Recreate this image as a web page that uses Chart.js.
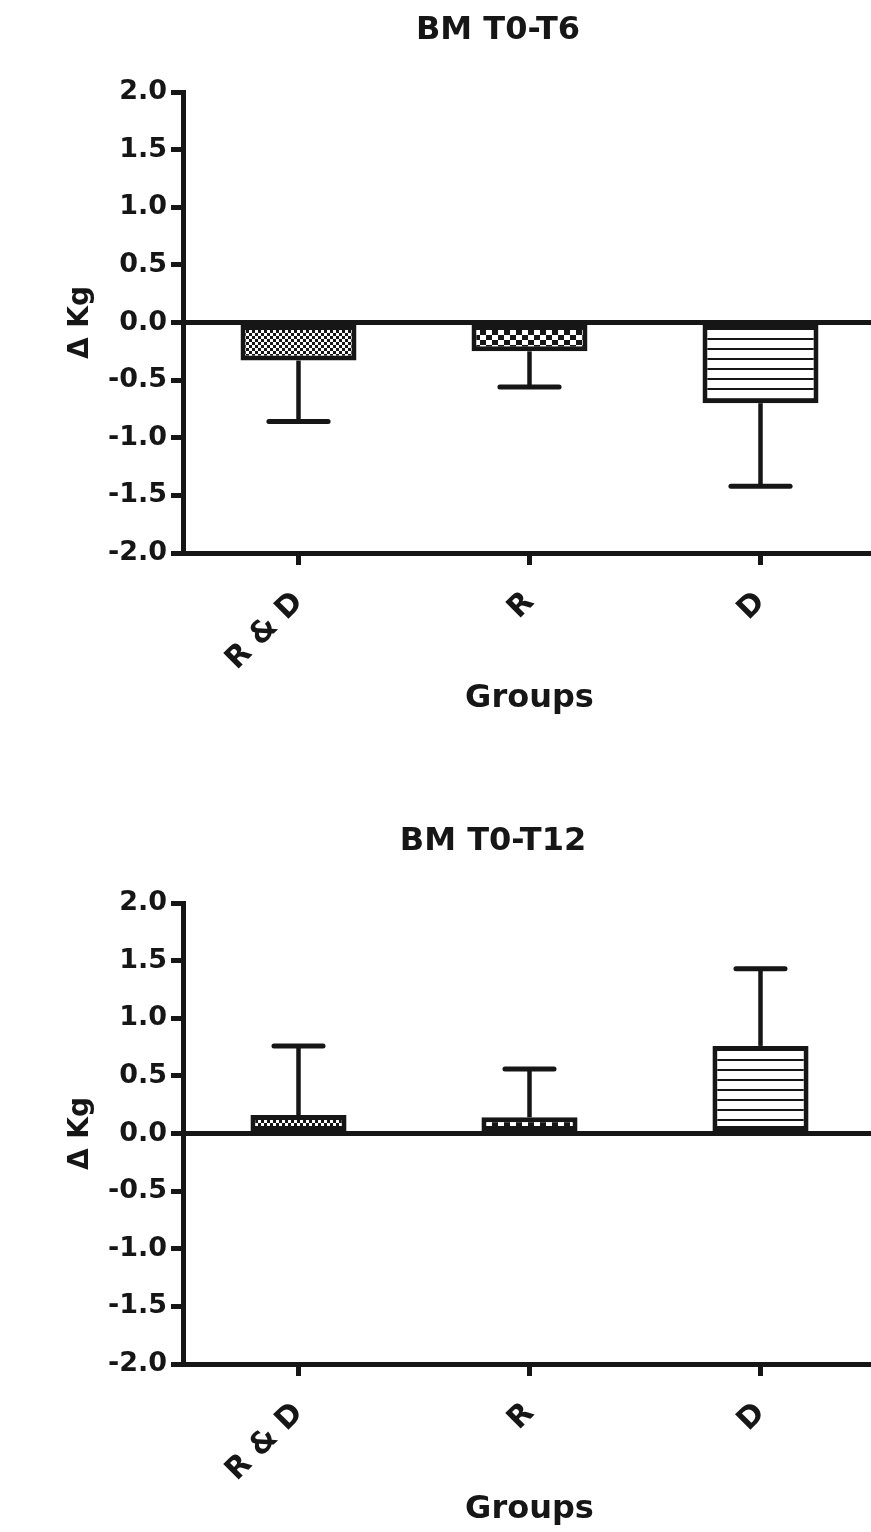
<!DOCTYPE html>
<html><head><meta charset="utf-8">
<script src="https://cdn.jsdelivr.net/npm/chart.js@4.4.1/dist/chart.umd.min.js"></script>
<style>
html,body{margin:0;padding:0;background:#fff;overflow:hidden;width:871px;height:1532px;position:relative;}
.wrap{position:absolute;left:0;width:880px;height:722px;}
.ttl{position:absolute;font-family:'DejaVu Sans';font-weight:bold;font-size:32px;color:#161616;line-height:38px;white-space:nowrap;transform:translateX(-50%);}
</style></head><body>
<div class="wrap" style="top:0"><canvas id="c1" width="880" height="722"></canvas></div>
<div class="wrap" style="top:811px"><canvas id="c2" width="880" height="722"></canvas></div>
<div class="ttl" id="t1" style="left:498px;top:9px"></div>
<div class="ttl" id="t2" style="left:493px;top:820px"></div>
<script>
// ---- data ----
const chartTitles = ['BM T0-T6', 'BM T0-T12'];
const groups = ['R & D', 'R', 'D'];
const t6Means = [-0.33, -0.25, -0.70];
const t6SD = [0.53, 0.31, 0.72];
const t12Means = [0.16, 0.14, 0.76];
const t12SD = [0.60, 0.42, 0.67];
const yTickLabels = ['-2.0', '-1.5', '-1.0', '-0.5', '0.0', '0.5', '1.0', '1.5', '2.0'];
const yAxisTitle = '\u0394 Kg';
const xAxisTitle = 'Groups';

// ---- style ----
const ink = '#161616';
const FONT = "'DejaVu Sans'";

function makePattern(kind) {
  const c = document.createElement('canvas');
  const x = c.getContext('2d');
  if (kind === 'fine') {
    c.width = 6; c.height = 6;
    x.fillStyle = '#fff'; x.fillRect(0, 0, 6, 6);
    x.fillStyle = ink; x.fillRect(0, 0, 3, 3); x.fillRect(3, 3, 3, 3);
  } else if (kind === 'coarse') {
    c.width = 12; c.height = 10;
    x.fillStyle = '#fff'; x.fillRect(0, 0, 12, 10);
    x.fillStyle = ink; x.fillRect(0, 0, 6, 5); x.fillRect(6, 5, 6, 5);
  } else {
    c.width = 4; c.height = 10;
    x.fillStyle = '#fff'; x.fillRect(0, 0, 4, 10);
    x.fillStyle = ink; x.fillRect(0, 8, 4, 2);
  }
  return x.createPattern(c, 'repeat');
}
const patterns = [makePattern('fine'), makePattern('coarse'), makePattern('lines')];

const errorBars = {
  id: 'errorBars',
  afterDatasetsDraw(chart) {
    const ctx = chart.ctx;
    const y = chart.scales.y;
    const ds = chart.data.datasets[0];
    const meta = chart.getDatasetMeta(0);
    ctx.save();
    ctx.strokeStyle = ink;
    meta.data.forEach((bar, i) => {
      const v = ds.data[i], e = ds.errors[i];
      const end = v >= 0 ? v + e : v - e;
      const y0 = y.getPixelForValue(v), y1 = y.getPixelForValue(end);
      const half = bar.width * 0.255;
      ctx.lineWidth = 4.5; ctx.lineCap = 'butt';
      ctx.beginPath(); ctx.moveTo(bar.x, y0); ctx.lineTo(bar.x, y1); ctx.stroke();
      ctx.lineWidth = 5; ctx.lineCap = 'round';
      ctx.beginPath(); ctx.moveTo(bar.x - half, y1); ctx.lineTo(bar.x + half, y1); ctx.stroke();
    });
    ctx.restore();
  }
};

function build(id, means, sds, barPct) {
  return new Chart(document.getElementById(id), {
    type: 'bar',
    data: {
      labels: groups,
      datasets: [{
        data: means,
        errors: sds,
        backgroundColor: patterns,
        borderColor: ink,
        borderWidth: 5,
        borderSkipped: false,
        barPercentage: barPct,
        categoryPercentage: 1.0
      }]
    },
    options: {
      responsive: false,
      animation: false,
      layout: { padding: { top: 92, right: 4, left: 0, bottom: 0 } },
      plugins: { legend: { display: false }, tooltip: { enabled: false }, title: { display: false } },
      scales: {
        x: {
          offset: true,
          grid: { display: true, drawOnChartArea: false, offset: false, color: ink, lineWidth: 5, tickLength: 12, tickWidth: 5, tickColor: ink },
          border: { display: true, color: ink, width: 5 },
          ticks: { color: ink, font: { family: FONT, weight: 'bold', size: 30 }, maxRotation: 45, minRotation: 45, padding: 20 },
          title: { display: true, text: xAxisTitle, color: ink, font: { family: FONT, weight: 'bold', size: 32 }, padding: { top: 0, bottom: 4 } },
          afterFit(s) { s.height = 169; }
        },
        y: {
          min: -2, max: 2,
          grid: {
            drawOnChartArea: true,
            color: c => (c.tick && c.tick.value === 0) ? ink : 'rgba(0,0,0,0)',
            lineWidth: 5, tickLength: 12, tickWidth: 5, tickColor: ink
          },
          border: { display: true, color: ink, width: 5 },
          ticks: { stepSize: 0.5, color: ink, padding: 4, font: { family: FONT, weight: 'bold', size: 27 },
                   callback: (v, i) => yTickLabels[i] },
          title: { display: true, text: yAxisTitle, color: ink, font: { family: FONT, weight: 'bold', size: 28 }, padding: { top: 64, bottom: 0 } },
          afterFit(s) { s.width = 183; }
        }
      }
    },
    plugins: [errorBars]
  });
}

document.getElementById('t1').textContent = chartTitles[0];
document.getElementById('t2').textContent = chartTitles[1];
build('c1', t6Means, t6SD, 0.502);
build('c2', t12Means, t12SD, 0.416);
</script>
</body></html>
